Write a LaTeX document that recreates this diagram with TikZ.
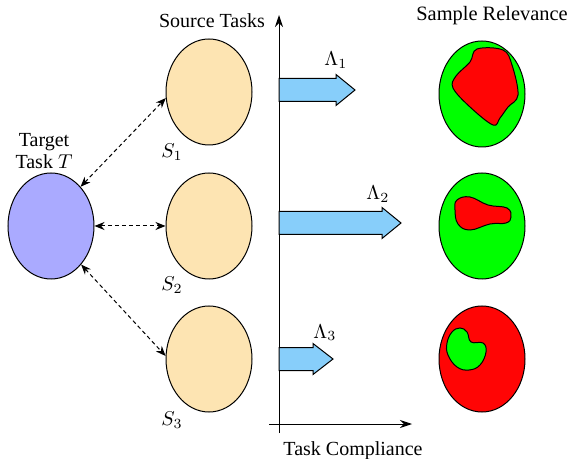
\documentclass[tikz,border=0pt]{standalone}
\usepackage{fontspec}
\setmainfont{Liberation Serif}
\usetikzlibrary{shapes.geometric,arrows.meta}
\definecolor{peach}{RGB}{253,228,178}
\definecolor{tblue}{RGB}{170,170,255}
\definecolor{lblue}{RGB}{135,206,250}
\definecolor{rgreen}{RGB}{0,255,0}
\definecolor{rred}{RGB}{255,5,5}
\tikzset{
  task/.style={ellipse,draw,line width=0.5pt,inner sep=0pt,minimum width=43pt,minimum height=53pt},
  rel/.style={ellipse,draw,line width=0.5pt,inner sep=0pt,minimum width=43pt,minimum height=53pt},
  link/.style={line width=0.5pt,dash pattern=on 2pt off 1.5pt,{Stealth[length=5pt,width=4pt]}-{Stealth[length=5pt,width=4pt]}},
  axis/.style={line width=0.5pt,-{Stealth[length=6pt,width=4pt]}},
  blk/.style={draw,line width=0.5pt,fill=lblue},
  blob/.style={draw,line width=0.5pt},
  lbl/.style={font=\fontsize{10}{11}\selectfont,inner sep=0pt},
}
\begin{document}
\begin{tikzpicture}[x=0.5pt,y=-0.5pt]
\useasboundingbox (0,0) rectangle (572,459);
% ellipses
\node[task,fill=tblue] (T) at (51,226) {};
\node[task,fill=peach] (S1) at (209,92) {};
\node[task,fill=peach] (S2) at (209,226) {};
\node[task,fill=peach] (S3) at (209,359) {};
\node[rel,fill=rgreen] (R1) at (482,94) {};
\node[rel,fill=rgreen] (R2) at (482,226) {};
\node[rel,fill=rred] (R3) at (482,359) {};
% blobs
\draw[blob,fill=rred] plot[smooth cycle,tension=0.6] coordinates {(477,49) (503,50) (512,65) (518,95) (508,107) (500,118) (493,125) (470,107) (453,88) (456,76) (470,62)};
\draw[blob,fill=rred] plot[smooth cycle,tension=0.7] coordinates {(457,200) (470,197) (488,205) (507,208) (511,217) (506,223) (490,224) (470,230) (458,224) (455,210)};
\draw[blob,fill=rgreen] plot[smooth cycle,tension=0.7] coordinates {(460,328) (467,332) (471,342) (483,343) (486,352) (480,365) (469,370) (457,367) (448,355) (447,343) (452,332)};
% links
\draw[link] (T.53) -- (S1.188);
\draw[link] (T.east) -- (S2.west);
\draw[link] (T.-52) -- (S3.176);
% axes
\coordinate (ybot) at (279,433);
\coordinate (ytop) at (279,15);
\coordinate (xl) at (269,424);
\coordinate (xr) at (412,424);
\draw[axis] (ybot) -- (ytop);
\draw[axis] (xl) -- (xr);
% block arrows
\draw[blk] (279,78.5) -- (336,78.5) -- (336,74.5) -- (355,90) -- (336,105.5) -- (336,101.5) -- (279,101.5) -- cycle;
\draw[blk] (279,211.5) -- (382,211.5) -- (382,207.5) -- (401,223) -- (382,238.5) -- (382,234.5) -- (279,234.5) -- cycle;
\draw[blk] (279,347.5) -- (313,347.5) -- (313,343.5) -- (333,359) -- (313,374.5) -- (313,370.5) -- (279,370.5) -- cycle;
% texts
\node[lbl,anchor=base] (srcT) at (212,28) {Source Tasks};
\node[lbl,anchor=base,align=center] (tgtT) at (44,169) {Target\\Task $T$};
\node[lbl,anchor=base west] (s1) at (161,158) {$S_1$};
\node[lbl,anchor=base west] (s2) at (161,291) {$S_2$};
\node[lbl,anchor=base west] (s3) at (161,425) {$S_3$};
\node[lbl,anchor=base west] (l1) at (324,66) {$\Lambda_1$};
\node[lbl,anchor=base west] (l2) at (366,200) {$\Lambda_2$};
\node[lbl,anchor=base west] (l3) at (313,338) {$\Lambda_3$};
\node[lbl,anchor=base,font=\fontsize{10.2}{11}\selectfont] (sr) at (492,21) {Sample Relevance};
\node[lbl,anchor=base] (tc) at (353,455) {Task Compliance};
\end{tikzpicture}
\end{document}
